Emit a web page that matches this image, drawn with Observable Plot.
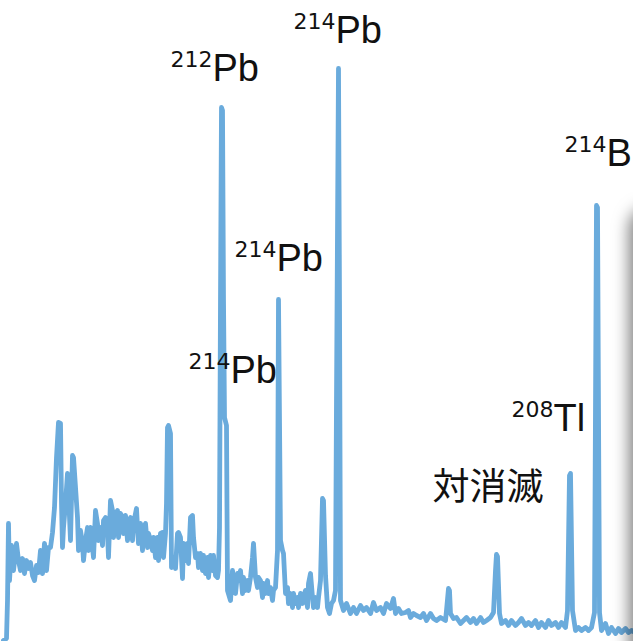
<!DOCTYPE html>
<html>
<head>
<meta charset="utf-8">
<script src="https://cdn.jsdelivr.net/npm/d3@7"></script>
<script src="https://cdn.jsdelivr.net/npm/@observablehq/plot@0.6"></script>
<style>
  html, body { margin: 0; padding: 0; background: #fff; overflow: hidden; }
  #wrap { position: relative; width: 633px; height: 641px; overflow: hidden; }
  /* edge of the neighbouring panel casting a soft shadow */
  #edge { position: absolute; left: 634px; top: 212px; width: 80px; height: 700px;
          border-radius: 16px; background: #777;
          box-shadow: 0 0 16px 5px rgba(0,0,0,0.5); pointer-events: none; }
</style>
</head>
<body>
<div id="wrap"><div id="edge"></div></div>
<script>
// Gamma-ray spectrum of natural background (energy in keV, counts per bin)
const energy = [
  17,20,21,22,23,25,27,30,32,34,36,38,40,42,44,46,48,50,52,54,56,58,60,62,64,66,68,70,72,74,
  75,76,77,79,81,82,84,86,87,89,91,92,94,96,97,99,101,102,
  104,106,107,109,111,112,114,116,117,119,121,122,124,126,127,129,131,132,134,136,
  137,139,141,142,144,146,147,150,151,152,154,156,157,159,161,162,164,166,167,169,
  171,172,174,176,177,179,180,181,182,184,185,187,189,191,192,194,196,197,199,201,
  202,204,206,207,209,211,212,214,216,217,219,221,222,224,226,227,229,231,232,233,
  234,235,236,237,
  238,240,241,244,246,247,249,251,252,254,256,257,259,261,262,264,266,267,269,271,272,274,276,277,279,281,282,284,286,287,
  289,291,292,294,296,297,299,301,302,304,306,307,309,311,312,314,316,317,319,321,322,324,326,327,329,331,332,334,336,337,
  339,341,343,345,347,349,350,352,353,354,357,360,364,367,370,374,377,380,384,387,390,394,397,400,404,407,409,412,415,419,
  422,424,427,430,434,437,440,444,447,450,454,459,460,462,463,464,467,470,474,477,480,484,487,490,494,497,500,504,507,509,
  510,511,513,515,519,522,525,529,532,535,539,542,545,549,552,555,559,562,565,569,572,575,579,581,583,584,586,589,592,595,
  599,602,605,608,610,611,613,615,619,622,625,629,632,635,639,642,645,647
];
const counts = [
  10,30,410,1180,610,960,710,980,810,710,830,680,810,730,790,660,610,760,690,910,680,980,710,940,940,1090,1340,1840,2190,2180,
  1380,940,1140,1380,1680,1480,1010,1860,1840,1540,1240,910,1110,980,810,1010,1140,910,
  1140,940,840,1310,1180,1010,1140,960,1210,1240,1080,840,1410,1310,1040,1280,1310,1040,1280,1240,
  1080,1260,1010,1180,1240,1010,1180,1330,1140,980,1180,910,1140,1180,940,1080,1010,910,1040,840,
  1040,810,1080,1090,840,1080,1380,2140,2160,2080,740,840,730,1080,1090,1040,630,980,810,980,
  780,1240,1260,1040,840,880,740,880,710,860,680,840,640,860,710,860,660,640,710,1140,
  3410,5340,5310,3410,
  2240,2160,510,410,710,610,480,680,610,710,480,640,510,610,510,640,840,980,640,540,640,610,440,580,480,610,480,540,410,510,
  540,910,3420,1010,910,880,480,540,380,480,340,480,380,440,340,480,380,440,510,340,580,680,440,340,440,340,440,610,1430,1410,
  660,340,280,380,410,510,2410,5730,3410,410,310,380,280,340,280,360,310,340,280,390,310,340,280,380,330,430,280,330,280,290,
  310,240,280,260,240,280,210,280,230,210,240,210,310,530,510,280,230,240,180,210,240,190,230,180,240,190,210,240,290,710,
  870,850,280,180,210,160,210,160,190,230,160,190,160,210,140,190,140,210,160,190,140,190,140,310,1660,1680,310,110,140,110,
  140,110,140,290,4360,4340,290,110,180,80,140,80,130,90,130,90,110,100
];

// Peak annotations: mass number, element, anchor energy and height
const labelMass    = ["212", "214", "214", "214", "208", "214"];
const labelElement = ["Pb",  "Pb",  "Pb",  "Pb",  "Tl",  "Bi"];
const labelEnergy  = [226, 349, 290, 244, 567, 620];
const labelCounts  = [5610, 5990, 3710, 2590, 2110, 4760];

// Annihilation peak note
const noteText   = ["対消滅"];
const noteEnergy = [446];
const noteCounts = [1420];

const spectrum = energy.map((e, i) => ({energy: e, counts: counts[i]}));
const labels = labelMass.map((m, i) => ({
  mass: m, element: labelElement[i], energy: labelEnergy[i], counts: labelCounts[i]
}));
const notes = noteText.map((t, i) => ({text: t, energy: noteEnergy[i], counts: noteCounts[i]}));

const font = "'Liberation Sans', 'Noto Sans CJK JP', sans-serif";

const chart = Plot.plot({
  width: 633,
  height: 641,
  margin: 0,
  x: {domain: [14, 647], axis: null},
  y: {domain: [0, 6410], axis: null},
  style: {background: "white", fontFamily: font},
  marks: [
    Plot.line(spectrum, {
      x: "energy", y: "counts",
      stroke: "#6aabdc", strokeWidth: 4.8,
      strokeLinejoin: "round", strokeLinecap: "round"
    }),
    Plot.text(labels, {
      x: "energy", y: "counts", text: "element",
      textAnchor: "start", lineAnchor: "bottom",
      fontSize: 38, fill: "#111"
    }),
    Plot.text(labels, {
      x: "energy", y: "counts", text: "mass",
      textAnchor: "end", lineAnchor: "bottom",
      dx: 0, dy: -14, fontSize: 22, fill: "#111",
      fontFamily: "'DejaVu Sans', sans-serif"
    }),
    Plot.text(notes, {
      x: "energy", y: "counts", text: "text",
      textAnchor: "start", lineAnchor: "bottom",
      fontSize: 37, fill: "#111",
      fontFamily: "'Noto Sans CJK JP', sans-serif"
    })
  ]
});

document.getElementById("wrap").prepend(chart);
</script>
</body>
</html>
